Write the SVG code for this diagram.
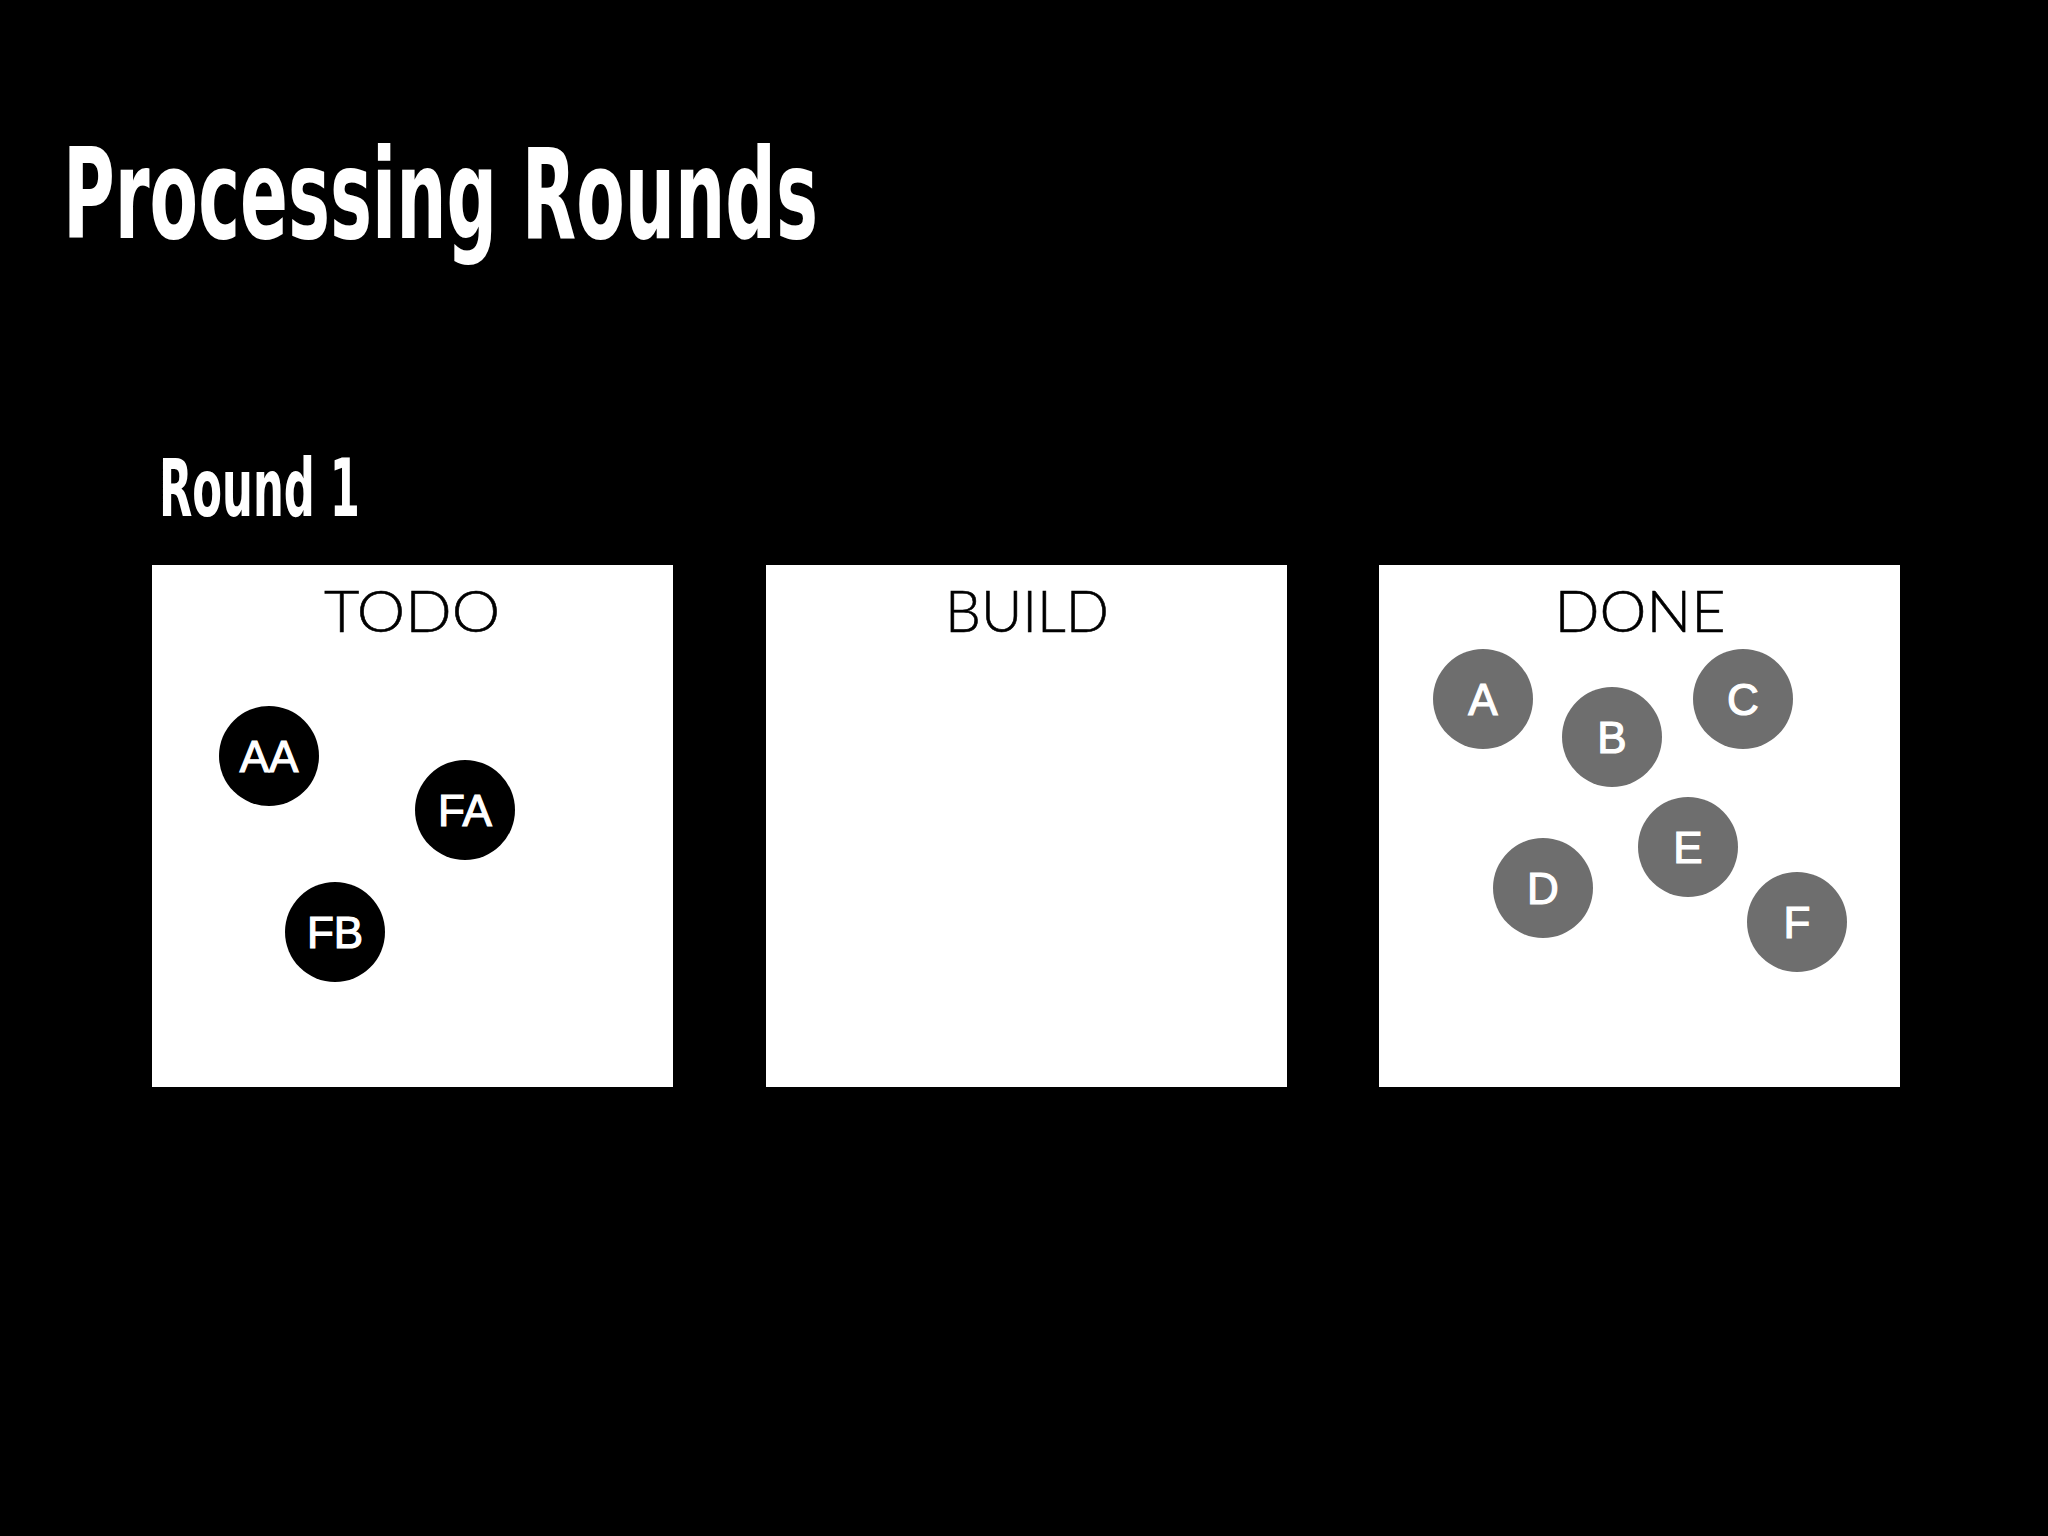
<svg xmlns="http://www.w3.org/2000/svg" width="2048" height="1536" viewBox="0 0 2048 1536">
<style>
.title{font-family:"DejaVu Sans Condensed","DejaVu Sans",sans-serif;font-weight:bold;fill:#fff}
.box{fill:#fff}
.lbl{font-family:Lato,"Noto Sans",sans-serif;font-weight:300;font-size:58px;fill:#000;text-anchor:middle;stroke:#000;stroke-width:0.6}
.todo{fill:#000}
.done{fill:#6e6e6e}
.ct{font-family:"Liberation Sans",Arial,sans-serif;font-size:44px;fill:#fff;text-anchor:middle;stroke:#fff;stroke-width:1.2}
</style>
<rect width="2048" height="1536" fill="#000"/>
<text class="title" x="63" y="238" font-size="125" textLength="755" lengthAdjust="spacingAndGlyphs">Processing Rounds</text>
<text class="title" x="159" y="516" font-size="81" textLength="201" lengthAdjust="spacingAndGlyphs">Round 1</text>
<g id="todo">
<rect class="box" x="152" y="565" width="521" height="522"/>
<text class="lbl" x="412" y="632" textLength="176" lengthAdjust="spacingAndGlyphs">TODO</text>
</g>
<g id="build">
<rect class="box" x="766" y="565" width="521" height="522"/>
<text class="lbl" x="1027" y="632" textLength="164" lengthAdjust="spacingAndGlyphs">BUILD</text>
</g>
<g id="done">
<rect class="box" x="1379" y="565" width="521" height="522"/>
<text class="lbl" x="1640" y="632" textLength="171" lengthAdjust="spacingAndGlyphs">DONE</text>
</g>
<g id="node-AA"><circle class="todo" cx="269" cy="756" r="50"/><text class="ct" x="269" y="772">AA</text></g>
<g id="node-FA"><circle class="todo" cx="465" cy="810" r="50"/><text class="ct" x="465" y="826">FA</text></g>
<g id="node-FB"><circle class="todo" cx="335" cy="932" r="50"/><text class="ct" x="335" y="948">FB</text></g>
<g id="node-A"><circle class="done" cx="1483" cy="699" r="50"/><text class="ct" x="1483" y="715">A</text></g>
<g id="node-B"><circle class="done" cx="1612" cy="737" r="50"/><text class="ct" x="1612" y="753">B</text></g>
<g id="node-C"><circle class="done" cx="1743" cy="699" r="50"/><text class="ct" x="1743" y="715">C</text></g>
<g id="node-D"><circle class="done" cx="1543" cy="888" r="50"/><text class="ct" x="1543" y="904">D</text></g>
<g id="node-E"><circle class="done" cx="1688" cy="847" r="50"/><text class="ct" x="1688" y="863">E</text></g>
<g id="node-F"><circle class="done" cx="1797" cy="922" r="50"/><text class="ct" x="1797" y="938">F</text></g>
<g id="connectors"/>
</svg>
